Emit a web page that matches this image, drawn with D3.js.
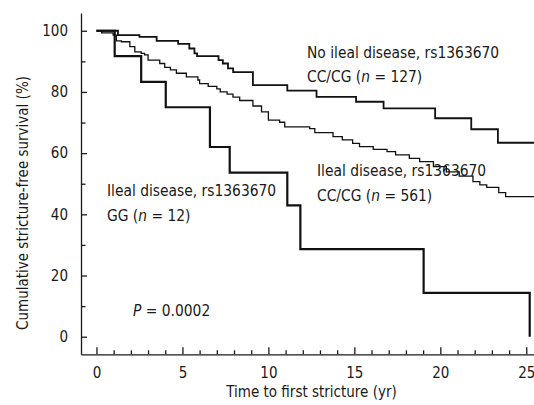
<!DOCTYPE html>
<html>
<head>
<meta charset="utf-8">
<script src="https://cdn.jsdelivr.net/npm/d3@7"></script>
<style>
  body { margin: 0; background: #fff; }
  svg text { font-family: "DejaVu Sans Condensed", "DejaVu Sans", sans-serif; fill: #1a1a1a; }
</style>
</head>
<body>
<div id="chart"></div>
<script>
// Kaplan-Meier curves, time in years, survival in %
var ggTime = [0, 1.06, 2.6, 4.03, 6.6, 7.75, 11.1, 11.86, 19.03, 25.2];
var ggSurv = [100, 91.7, 83.3, 75.0, 62.0, 53.6, 42.9, 28.6, 14.3, 0];

var noIlealTime = [0, 1.25, 2.5, 3.5, 4.75, 5.4, 5.7, 5.85, 7.1, 7.35, 7.65, 7.95, 9.1, 11.1, 12.8, 15.1, 16.7, 19.7, 21.8, 23.35, 25.45];
var noIlealSurv = [100, 98.6, 98.0, 96.7, 95.7, 94.2, 92.6, 91.7, 90.4, 89.3, 87.7, 86.5, 82.2, 80.4, 78.4, 76.8, 74.6, 71.4, 67.8, 63.4, 63.4];

var ilealTime = [0, 0.3, 0.97, 1.16, 1.45, 1.94, 2.23, 2.6, 2.8, 3.0, 3.68, 3.97, 4.3, 4.65, 5.23, 5.9, 6.0, 6.5, 7.0, 7.2, 7.6, 7.94, 8.33, 9.1, 9.6, 10.0, 10.65, 10.95, 12.4, 12.7, 13.76, 14.3, 14.9, 15.3, 16.1, 16.9, 17.4, 18.2, 18.8, 19.6, 20.35, 21.1, 21.9, 22.3, 22.7, 23.4, 23.8, 25.45];
var ilealSurv = [100, 99.3, 98.6, 96.7, 96.4, 94.8, 93.1, 92.6, 92.1, 90.4, 89.3, 88.0, 87.2, 86.1, 84.9, 83.9, 82.7, 81.8, 81.0, 80.0, 79.3, 78.3, 77.2, 75.4, 73.5, 70.8, 70.1, 68.6, 68.0, 66.7, 65.4, 64.3, 63.2, 62.1, 61.2, 60.5, 59.4, 58.3, 57.2, 55.6, 53.9, 52.5, 50.7, 49.6, 48.8, 47.1, 45.8, 45.8];

var xMajor = [0, 5, 10, 15, 20, 25];
var yMajor = [0, 20, 40, 60, 80, 100];

var width = 534, height = 405;

var svg = d3.select("#chart").append("svg")
  .attr("width", width)
  .attr("height", height);

var x = d3.scaleLinear().domain([-0.9, 25.45]).range([81, 534]);
var y = d3.scaleLinear().domain([-5.75, 105.8]).range([354.3, 13]);

var xMinor = d3.range(1, 25).filter(function(d) { return d % 5 != 0; });
var yMinor = d3.range(10, 100, 20);

// minor ticks first, no labels
svg.append("g")
  .attr("transform", "translate(0," + y.range()[0] + ")")
  .call(d3.axisBottom(x).tickValues(xMinor).tickSize(-4).tickFormat(""))
  .call(function(g) { g.select(".domain").remove(); });

svg.append("g")
  .attr("transform", "translate(" + x.range()[0] + ",0)")
  .call(d3.axisLeft(y).tickValues(yMinor).tickSize(-4.5).tickFormat(""))
  .call(function(g) { g.select(".domain").remove(); });

var xAxis = svg.append("g")
  .attr("class", "x axis")
  .attr("transform", "translate(0," + y.range()[0] + ")")
  .call(d3.axisBottom(x).tickValues(xMajor).tickSizeInner(-7).tickSizeOuter(0).tickPadding(13));

var yAxis = svg.append("g")
  .attr("class", "y axis")
  .attr("transform", "translate(" + x.range()[0] + ",0)")
  .call(d3.axisLeft(y).tickValues(yMajor).tickSizeInner(-6).tickSizeOuter(0).tickPadding(13));

svg.selectAll(".tick line").attr("stroke", "#1a1a1a").attr("stroke-width", 1.3);
svg.selectAll(".domain").attr("stroke", "#1a1a1a").attr("stroke-width", 1.3);
svg.selectAll(".tick text").style("font-size", "15px").attr("fill", "#1a1a1a");

// curves
var line = d3.line()
  .x(function(d) { return x(d[0]); })
  .y(function(d) { return y(d[1]); })
  .curve(d3.curveStepAfter);

function addCurve(times, surv, w) {
  svg.append("path")
    .datum(d3.zip(times, surv))
    .attr("fill", "none")
    .attr("stroke", "#111")
    .attr("stroke-width", w)
    .attr("d", line);
}

addCurve(ilealTime, ilealSurv, 1.3);
addCurve(noIlealTime, noIlealSurv, 1.8);
addCurve(ggTime, ggSurv, 2.2);

// labels
function addLabel(x0, y0, first, pre, post) {
  svg.append("text").attr("x", x0).attr("y", y0).style("font-size", "15.4px").text(first);
  var t = svg.append("text").attr("x", x0).attr("y", y0 + 24.5).style("font-size", "15.4px");
  t.append("tspan").text(pre);
  t.append("tspan").style("font-style", "italic").text("n");
  t.append("tspan").text(post);
}

addLabel(307, 57.5, "No ileal disease, rs1363670", "CC/CG (", " = 127)");
addLabel(317, 176, "Ileal disease, rs1363670", "CC/CG (", " = 561)");
addLabel(107, 196, "Ileal disease, rs1363670", "GG (", " = 12)");

var p = svg.append("text").attr("x", 133).attr("y", 316).style("font-size", "15.4px");
p.append("tspan").style("font-style", "italic").text("P");
p.append("tspan").text(" = 0.0002");

svg.append("text")
  .attr("x", 311.5)
  .attr("y", 396.5)
  .attr("text-anchor", "middle")
  .style("font-size", "15px")
  .text("Time to first stricture (yr)");

svg.append("text")
  .attr("transform", "translate(28,203) rotate(-90)")
  .attr("text-anchor", "middle")
  .style("font-size", "15px")
  .text("Cumulative stricture-free survival (%)");
</script>
</body>
</html>
